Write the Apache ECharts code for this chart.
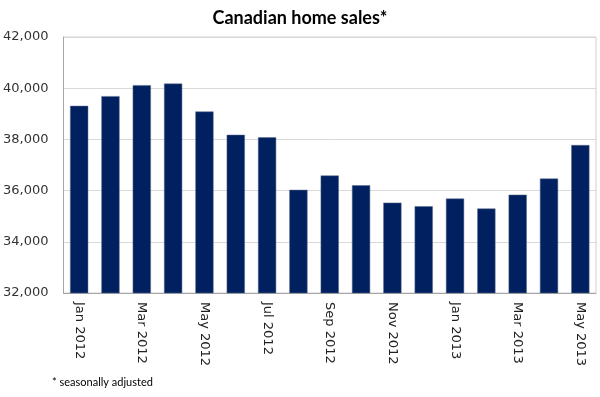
<!DOCTYPE html>
<html><head><meta charset="utf-8">
<script src="https://cdn.jsdelivr.net/npm/echarts@6/dist/echarts.min.js"></script>
<style>html,body{margin:0;padding:0;background:#fff}#c{width:600px;height:397px}</style>
</head><body><div id="c"></div>
<script>
const categories = ["Jan 2012","Feb 2012","Mar 2012","Apr 2012","May 2012","Jun 2012","Jul 2012","Aug 2012","Sep 2012","Oct 2012","Nov 2012","Dec 2012","Jan 2013","Feb 2013","Mar 2013","Apr 2013","May 2013"];
const sales = [39310, 39690, 40120, 40180, 39090, 38180, 38080, 36030, 36590, 36210, 35530, 35390, 35690, 35300, 35840, 36470, 37780];
const titleText = "Canadian home sales*";
const footnote = "* seasonally adjusted";

const chart = echarts.init(document.getElementById('c'));
chart.setOption({
  animation: false,
  title: { text: titleText, left: 'center', top: 4,
    textStyle: { fontFamily: 'Lato', fontSize: 18, fontWeight: 'bold', color: '#000' } },
  graphic: [{ type: 'text', left: 52, top: 377,
    style: { text: footnote, fontFamily: 'Lato', fontSize: 11, fill: '#000' } }],
  grid: { left: 61, right: 4, top: 37, bottom: 104, show: true, borderColor: '#d0d0d0', borderWidth: 1 },
  xAxis: {
    type: 'category', data: categories, boundaryGap: true,
    axisLine: { lineStyle: { color: '#a6a6a6' } },
    axisTick: { interval: 1, length: 5, lineStyle: { color: '#a6a6a6' } },
    axisLabel: { interval: 1, rotate: -90, margin: 9, fontFamily: 'DejaVu Sans', fontSize: 13, color: '#222' }
  },
  yAxis: {
    type: 'value', min: 32000, max: 42000, interval: 2000,
    axisLine: { show: true, lineStyle: { color: '#a6a6a6' } },
    axisTick: { show: false },
    splitLine: { lineStyle: { color: '#d9d9d9' } },
    axisLabel: { fontFamily: 'DejaVu Sans', fontSize: 13, color: '#333', margin: 15,
      formatter: v => v.toLocaleString('en-US') }
  },
  series: [{ type: 'bar', data: sales, barWidth: '58%',
    itemStyle: { color: '#00205F', borderColor: '#5a6a8a', borderWidth: 0.5 } }]
});
</script></body></html>
